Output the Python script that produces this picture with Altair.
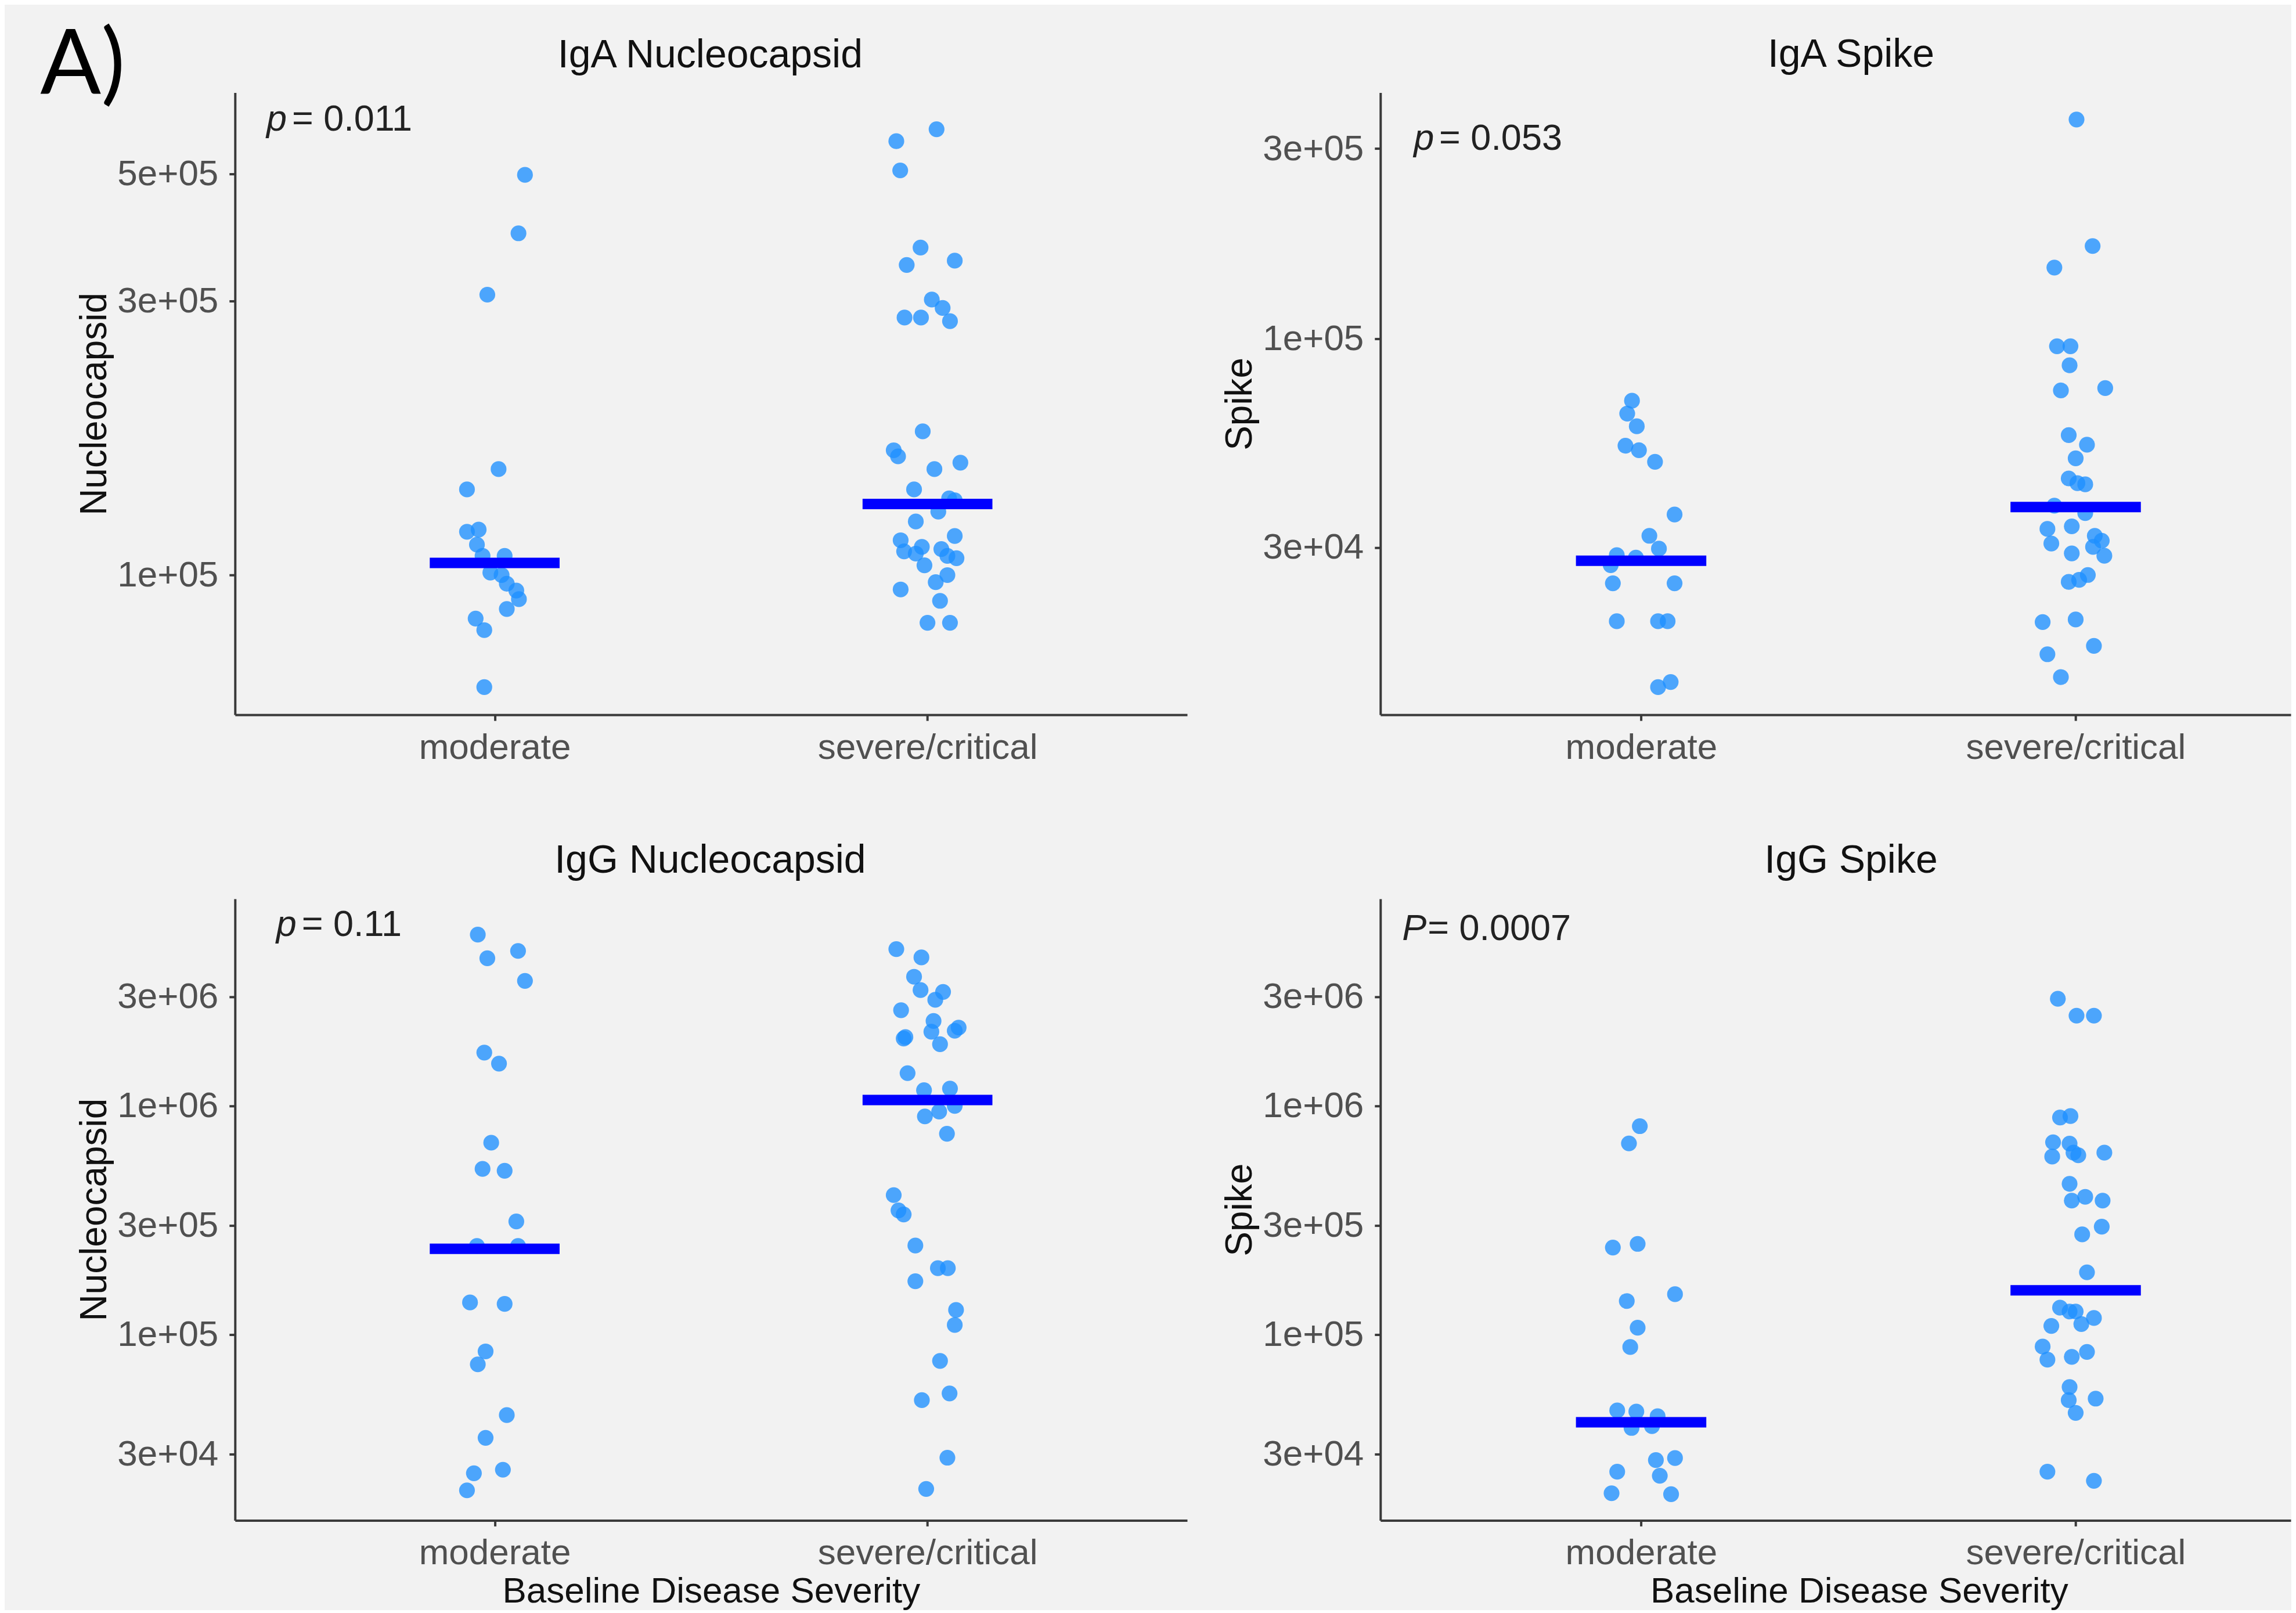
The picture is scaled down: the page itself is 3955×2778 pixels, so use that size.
import altair as alt
import pandas as pd

FONT = "Liberation Sans"
DOT = "#1E90FF"
LINE = "#0000FF"
BG = "#F2F2F2"

groups = ["moderate", "severe/critical"]

# ---------------- IgA Nucleocapsid ----------------
igaN_mod = [4.98e5, 3.94e5, 3.08e5, 1.53e5, 1.41e5, 1.19e5, 1.20e5, 1.13e5, 1.08e5, 1.08e5,
            1.01e5, 1.00e5, 9.66e4, 9.40e4, 9.08e4, 8.73e4, 8.40e4, 8.02e4, 6.38e4]
igaN_mod_jit = [0.070, 0.055, -0.017, 0.009, -0.064, -0.064, -0.037, -0.041, -0.028, 0.023,
                -0.010, 0.016, 0.028, 0.050, 0.056, 0.028, -0.044, -0.024, -0.024]
igaN_sev = [5.98e5, 5.70e5, 5.07e5, 3.72e5, 3.47e5, 3.53e5, 3.02e5, 2.92e5, 2.81e5, 2.81e5,
            2.77e5, 1.78e5, 1.65e5, 1.61e5, 1.57e5, 1.53e5, 1.41e5, 1.36e5, 1.35e5, 1.29e5,
            1.24e5, 1.15e5, 1.17e5, 1.10e5, 1.12e5, 1.09e5, 1.11e5, 1.08e5, 1.07e5, 1.04e5,
            1.00e5, 9.72e4, 9.44e4, 9.02e4, 8.26e4, 8.26e4]
igaN_sev_jit = [0.021, -0.072, -0.063, -0.016, -0.048, 0.063, 0.010, 0.035, -0.053, -0.015,
                0.052, -0.011, -0.078, -0.068, 0.076, 0.016, -0.031, 0.050, 0.063, 0.025,
                -0.027, -0.062, 0.063, -0.054, -0.013, -0.027, 0.032, 0.046, 0.067, -0.007,
                0.046, 0.019, -0.062, 0.029, 0.000, 0.052]
igaN_med = [1.05e5, 1.33e5]

# ---------------- IgA Spike ----------------
igaS_mod = [7.00e4, 6.50e4, 6.04e4, 5.40e4, 5.26e4, 4.92e4, 3.63e4, 3.21e4, 2.98e4, 2.87e4,
            2.83e4, 2.71e4, 2.44e4, 2.44e4, 1.96e4, 1.96e4, 1.96e4, 1.34e4, 1.38e4]
igaS_mod_jit = [-0.021, -0.032, -0.010, -0.036, -0.005, 0.032, 0.077, 0.019, 0.041, -0.056,
                -0.012, -0.070, -0.065, 0.077, -0.056, 0.039, 0.061, 0.039, 0.068]
igaS_sev = [3.55e5, 1.71e5, 1.51e5, 9.59e4, 9.59e4, 8.59e4, 7.43e4, 7.53e4, 5.74e4, 5.43e4,
            5.02e4, 4.47e4, 4.35e4, 4.32e4, 3.82e4, 3.66e4, 3.34e4, 3.39e4, 3.07e4, 2.90e4,
            3.21e4, 3.12e4, 3.01e4, 2.86e4, 2.46e4, 2.49e4, 2.56e4, 1.95e4, 1.98e4, 1.70e4,
            1.62e4, 1.42e4]
igaS_sev_jit = [0.002, 0.039, -0.049, -0.043, -0.012, -0.014, -0.034, 0.068, -0.016, 0.026,
                0.000, -0.016, 0.004, 0.022, -0.049, 0.022, -0.065, -0.009, -0.056, -0.009,
                0.044, 0.060, 0.040, 0.066, -0.016, 0.008, 0.028, -0.076, 0.000, 0.042,
                -0.065, -0.034]
igaS_med = [2.78e4, 3.79e4]

# ---------------- IgG Nucleocapsid ----------------
iggN_mod = [5.61e6, 4.42e6, 4.76e6, 3.52e6, 1.71e6, 1.53e6, 6.90e5, 5.30e5, 5.20e5, 3.12e5,
            2.44e5, 2.44e5, 1.38e5, 1.36e5, 8.43e4, 7.40e4, 4.44e4, 3.53e4, 2.47e4, 2.56e4, 2.08e4]
iggN_mod_jit = [-0.039, -0.017, 0.054, 0.070, -0.024, 0.010, -0.008, -0.028, 0.023, 0.050,
                -0.041, 0.054, -0.057, 0.023, -0.021, -0.039, 0.028, -0.021, -0.048, 0.019, -0.064]
iggN_sev = [4.85e6, 4.46e6, 3.67e6, 3.21e6, 3.15e6, 2.91e6, 2.62e6, 2.35e6, 2.11e6, 2.20e6,
            2.13e6, 1.97e6, 2.00e6, 1.86e6, 1.39e6, 1.17e6, 1.19e6, 1.00e6, 9.44e5, 8.99e5,
            7.55e5, 4.07e5, 3.49e5, 3.35e5, 2.45e5, 1.95e5, 1.95e5, 1.71e5, 1.28e5, 1.10e5,
            7.66e4, 5.16e4, 5.52e4, 2.89e4, 2.11e4]
iggN_sev_jit = [-0.072, -0.014, -0.031, -0.016, 0.036, 0.018, -0.061, 0.014, 0.009, 0.072,
                0.063, -0.055, -0.051, 0.029, -0.046, -0.008, 0.052, 0.063, 0.027, -0.006,
                0.045, -0.078, -0.067, -0.055, -0.028, 0.024, 0.047, -0.028, 0.066, 0.063,
                0.029, -0.013, 0.051, 0.046, -0.003]
iggN_med = [2.37e5, 1.06e6]

# ---------------- IgG Spike ----------------
iggS_mod = [8.15e5, 6.85e5, 2.49e5, 2.40e5, 1.50e5, 1.40e5, 1.07e5, 8.81e4, 4.65e4, 4.60e4,
            4.39e4, 3.90e4, 3.97e4, 2.51e4, 2.82e4, 2.88e4, 2.41e4, 2.02e4, 2.00e4]
iggS_mod_jit = [-0.003, -0.028, -0.008, -0.065, 0.078, -0.033, -0.008, -0.025, -0.055, -0.011,
                0.038, -0.022, 0.025, -0.055, 0.034, 0.078, 0.043, -0.068, 0.069]
iggS_sev = [2.94e6, 2.48e6, 2.48e6, 8.89e5, 9.02e5, 6.93e5, 6.00e5, 6.84e5, 6.24e5, 6.08e5,
            6.24e5, 4.56e5, 3.85e5, 4.00e5, 3.85e5, 2.96e5, 2.74e5, 1.87e5, 1.31e5, 1.26e5,
            1.26e5, 1.11e5, 1.18e5, 1.09e5, 8.85e4, 7.76e4, 7.98e4, 8.39e4, 5.89e4, 5.16e4,
            4.54e4, 5.24e4, 2.51e4, 2.29e4]
iggS_sev_jit = [-0.041, 0.002, 0.042, -0.036, -0.012, -0.052, -0.054, -0.014, -0.005, 0.006,
                0.066, -0.014, -0.009, 0.022, 0.062, 0.060, 0.015, 0.026, -0.036, -0.014,
                0.000, 0.013, 0.042, -0.056, -0.076, -0.065, -0.009, 0.026, -0.014, -0.016,
                0.000, 0.046, -0.065, 0.042]
iggS_med = [4.13e4, 1.56e5]

# p-value annotations (position in data units: x category units, y value)
p_sym = ["p", "p", "p", "P"]
p_txt = ["= 0.011", "= 0.053", "= 0.11", "= 0.0007"]
p_x = [0.4726, 0.4766, 0.4953, 0.450]
p_y = [6.21e5, 3.18e5, 6.17e6, 5.94e6]

# panel titles (position in data units)
titles = ["IgA Nucleocapsid", "IgA Spike", "IgG Nucleocapsid", "IgG Spike"]
title_x = [1.498, 1.483, 1.498, 1.483]
title_y = [8.04e5, 5.15e5, 1.177e7, 1.177e7]

ytitles = ["Nucleocapsid", "Spike", "Nucleocapsid", "Spike"]
yticks_top_left = [1e5, 3e5, 5e5]
yticks_top_right = [3e4, 1e5, 3e5]
yticks_bottom = [3e4, 1e5, 3e5, 1e6, 3e6]
ydoms = [[57100, 692500], [11420, 414500], [15380, 8.05e6], [15380, 8.05e6]]
xdom_left = [0.4, 2.6]
xdom_right = [0.4, 2.495]


def points_df(mod, mod_j, sev, sev_j):
    rows = []
    for v, j in zip(mod, mod_j):
        rows.append({"group": groups[0], "idx": 1, "val": v, "jit": j})
    for v, j in zip(sev, sev_j):
        rows.append({"group": groups[1], "idx": 2, "val": v, "jit": j})
    return pd.DataFrame(rows)


def med_df(meds):
    return pd.DataFrame({"group": groups, "idx": [1, 2], "val": meds})


AX_COL = "#3a3a3a"


def make_axes(xtitle, yt, ytitle, xtitle_x=None):
    xkw = dict(values=[1, 2], grid=False,
               labelExpr="datum.value == 1 ? 'moderate' : 'severe/critical'",
               labelFontSize=62, labelColor="#505050", labelPadding=16, labelLimit=0,
               tickSize=10, tickWidth=4, tickColor=AX_COL,
               domainColor=AX_COL, domainWidth=4,
               titleFontSize=62, titleColor="#111111", titleFontWeight="normal",
               titlePadding=5)
    if xtitle_x is not None:
        xkw["titleX"] = xtitle_x
    xaxis = alt.Axis(title=xtitle, **xkw)
    yaxis = alt.Axis(title=ytitle, values=yt, grid=False,
                     labelExpr="replace(format(datum.value, '.0e'), 'e+', 'e+0')",
                     labelFontSize=62, labelColor="#505050", labelPadding=19, labelLimit=0,
                     tickSize=10, tickWidth=4, tickColor=AX_COL,
                     domainColor=AX_COL, domainWidth=4,
                     titleFontSize=64, titleColor="#111111", titleFontWeight="normal",
                     titlePadding=9)
    return xaxis, yaxis


def panel(k, pdf, mdf, xdom, width, height, yt, xtitle=None, xtitle_x=None, label_a=False):
    xaxis, yaxis = make_axes(xtitle, yt, ytitles[k], xtitle_x)
    xs = alt.Scale(domain=xdom, nice=False, zero=False)
    ys = alt.Scale(type="log", domain=ydoms[k], nice=False)

    def X(f):
        return alt.X(f, scale=xs, axis=xaxis)

    def Y(f):
        return alt.Y(f, scale=ys, axis=yaxis)

    pts = alt.Chart(pdf).mark_circle(size=740, color=DOT, opacity=0.78).transform_calculate(
        xpos="datum.idx + datum.jit"
    ).encode(x=X("xpos:Q"), y=Y("val:Q"))
    bar = alt.Chart(mdf).mark_rule(color=LINE, strokeWidth=18, strokeCap="butt").transform_calculate(
        x1="datum.idx - 0.15", x2="datum.idx + 0.15"
    ).encode(x=X("x1:Q"), x2="x2:Q", y=Y("val:Q"))
    ann = pd.DataFrame({"tx": [p_x[k]], "ty": [p_y[k]], "sym": [p_sym[k]], "rest": [p_txt[k]],
                        "ttx": [title_x[k]], "tty": [title_y[k]], "ttl": [titles[k]]})
    t1 = alt.Chart(ann).mark_text(align="left", baseline="middle", fontSize=63, font=FONT,
                                   fontStyle="italic", color="#222222").encode(
        x=X("tx:Q"), y=Y("ty:Q"), text="sym:N")
    t2 = alt.Chart(ann).mark_text(align="left", baseline="middle", fontSize=63, font=FONT,
                                   dx=44, color="#222222").encode(
        x=X("tx:Q"), y=Y("ty:Q"), text="rest:N")
    tt = alt.Chart(ann).mark_text(align="center", baseline="middle", fontSize=68, font=FONT,
                                   color="#111111").encode(
        x=X("ttx:Q"), y=Y("tty:Q"), text="ttl:N")
    layers = [pts, bar, t1, t2, tt]
    if label_a:
        adf = pd.DataFrame({"tx": [-0.05], "ty": [6.9e5], "lab": ["A)"]})
        ta = alt.Chart(adf).mark_text(align="left", baseline="alphabetic", fontSize=155,
                                      font="Lato", color="black").encode(
            x=X("tx:Q"), y=Y("ty:Q"), text="lab:N")
        layers.append(ta)
    return alt.layer(*layers).properties(width=width, height=height)


p1 = panel(0, points_df(igaN_mod, igaN_mod_jit, igaN_sev, igaN_sev_jit), med_df(igaN_med),
           xdom_left, 1641, 1072, yticks_top_left, label_a=True)
p2 = panel(1, points_df(igaS_mod, igaS_mod_jit, igaS_sev, igaS_sev_jit), med_df(igaS_med),
           xdom_right, 1569, 1072, yticks_top_right)
p3 = panel(2, points_df(iggN_mod, iggN_mod_jit, iggN_sev, iggN_sev_jit), med_df(iggN_med),
           xdom_left, 1641, 1071, yticks_bottom, xtitle="Baseline Disease Severity")
p4 = panel(3, points_df(iggS_mod, iggS_mod_jit, iggS_sev, iggS_sev_jit), med_df(iggS_med),
           xdom_right, 1569, 1071, yticks_bottom, xtitle="Baseline Disease Severity", xtitle_x=825)

chart = alt.concat(p1, p2, p3, p4, columns=2,
                   spacing={"row": 317, "column": 333}, bounds="flush").properties(
    background=BG,
    padding={"left": 60, "top": 28, "right": 0, "bottom": 0},
).configure_view(stroke="transparent").configure_axis(
    labelFont=FONT, titleFont=FONT
)

chart.save("out.html", embed_options={"renderer": "svg", "actions": False})
